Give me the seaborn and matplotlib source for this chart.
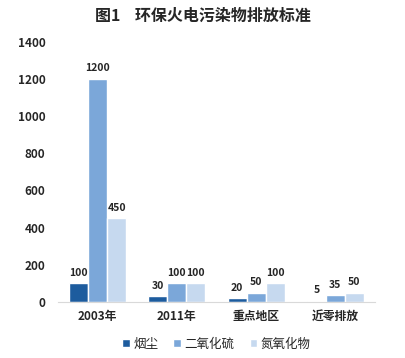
import matplotlib
matplotlib.use("Agg")
import matplotlib.pyplot as plt
import seaborn as sns
import pandas as pd

categories = ["2003年", "2011年", "重点地区", "近零排放"]
series = ["烟尘", "二氧化硫", "氮氧化物"]
yanchen = [100, 30, 20, 5]
so2 = [1200, 100, 50, 35]
nox = [450, 100, 100, 50]
colors = ["#1d5c9e", "#7ba7d9", "#c6d9ef"]

rows = []
for i, c in enumerate(categories):
    rows.append({"cat": c, "s": series[0], "v": yanchen[i]})
    rows.append({"cat": c, "s": series[1], "v": so2[i]})
    rows.append({"cat": c, "s": series[2], "v": nox[i]})
df = pd.DataFrame(rows)

sns.set_style("white")
plt.rcParams['font.family'] = ['Noto Sans CJK SC', 'DejaVu Sans']

fig = plt.figure(figsize=(4.05, 3.58), dpi=100)
ax = fig.add_axes([0.143, 0.157, 0.783, 0.726])

sns.barplot(data=df, x="cat", y="v", hue="s", palette=colors, width=0.72,
            saturation=1, ax=ax, legend=True)

for cont in ax.containers:
    ax.bar_label(cont, padding=4, fontsize=7.5, fontweight="bold")

ax.set_ylim(0, 1400)
ax.set_yticks(range(0, 1401, 200))
ax.set_xlim(-0.5, 3.5)
ax.set_xlabel("")
ax.set_ylabel("")
for sp in ["top", "right", "left"]:
    ax.spines[sp].set_visible(False)
ax.spines["bottom"].set_color("#d9d9d9")
ax.tick_params(axis="both", length=0, labelsize=8.5)
for t in ax.get_yticklabels():
    t.set_fontweight("bold")
for t in ax.get_xticklabels():
    t.set_fontweight("bold")
ax.tick_params(axis="y", pad=9)
ax.tick_params(axis="x", pad=6)

ax.legend(loc="upper center", bbox_to_anchor=(0.5, -0.095), ncol=3, frameon=False,
          fontsize=9, handlelength=0.6, handleheight=0.6, columnspacing=1.2,
          handletextpad=0.3)

fig.text(0.5, 0.955, "图1    环保火电污染物排放标准", ha="center", va="center",
         fontsize=11.5, fontweight="bold")

fig.savefig("out.png", dpi=100)
